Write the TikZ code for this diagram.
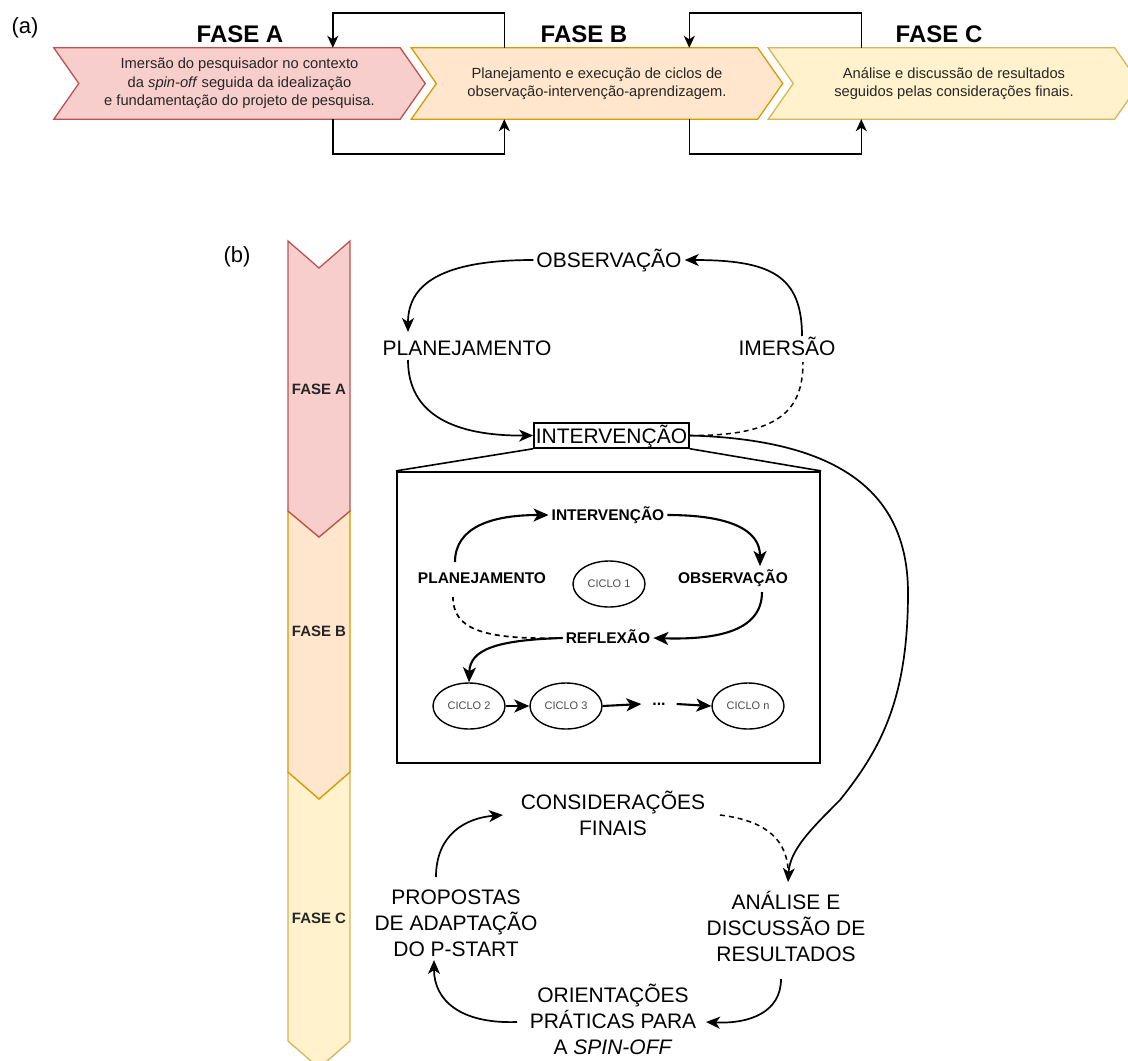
\documentclass[tikz,border=0pt]{standalone}
\usepackage{fontspec}
\setmainfont{Liberation Sans}
\usetikzlibrary{arrows.meta,calc,shapes.geometric}

\definecolor{afill}{HTML}{F8CECC}
\definecolor{aline}{HTML}{B85450}
\definecolor{bfill}{HTML}{FFE6CC}
\definecolor{bline}{HTML}{D79B00}
\definecolor{cfill}{HTML}{FFF2CC}
\definecolor{cline}{HTML}{D6B656}

\tikzset{
  body/.style={minimum width=346pt, minimum height=71pt, inner sep=0pt},
  boxtxt/.style={font=\fontsize{14.7}{18.3}\selectfont, align=center, text=black!85},
  phasetitle/.style={font=\bfseries\fontsize{24}{28}\selectfont, text height=17pt, text depth=0pt, inner sep=0pt},
  bartitle/.style={font=\bfseries\fontsize{15}{18}\selectfont, text height=11pt, text depth=0pt, inner sep=0pt, text=black!85},
  tag/.style={font=\fontsize{22}{26}\selectfont},
  big/.style={font=\fontsize{21}{26}\selectfont, align=center, inner sep=3pt},
  bigone/.style={big, text height=15pt, text depth=0pt},
  sm/.style={font=\bfseries\fontsize{15.5}{18}\selectfont, inner sep=3pt, text height=11pt, text depth=0pt},
  ciclo/.style={ellipse, draw, line width=1.4pt, minimum width=72pt, minimum height=46pt, inner sep=0pt,
                font=\fontsize{11}{13}\selectfont, text=black!70},
  loop/.style={-{Stealth[length=12pt,width=11pt,inset=3.5pt]}, line width=1.6pt},
  arr/.style={-{Stealth[length=14pt,width=12pt,inset=4pt]}, line width=1.7pt},
  arrb/.style={-{Stealth[length=15pt,width=13pt,inset=4pt]}, line width=2.1pt},
  dsh/.style={dash pattern=on 5pt off 4pt, line width=1.5pt},
  dshb/.style={dash pattern=on 5pt off 4pt, line width=1.7pt},
}

\begin{document}
\begin{tikzpicture}[x=1pt,y=-1pt]
\useasboundingbox (0,0) rectangle (1128,1061);
\fill[white] (0,0) rectangle (1128,1061);
\clip (0,0) rectangle (1128,1061);

% ---------- (a) phase sequence ----------
\node[tag] (taga) at (25,28) {(a)};

\node[body] (fa) at (227,83.5) {};
\node[body] (fb) at (584.5,83.5) {};
\node[body] (fc) at (941.5,83.5) {};

\draw[fill=afill, draw=aline, line width=1.3pt]
  (fa.north west) -- (fa.north east) -- ($(fa.east)+(25,0)$) -- (fa.south east)
  -- (fa.south west) -- ($(fa.west)+(25,0)$) -- cycle;
\draw[fill=bfill, draw=bline, line width=1.3pt]
  (fb.north west) -- (fb.north east) -- ($(fb.east)+(25,0)$) -- (fb.south east)
  -- (fb.south west) -- ($(fb.west)+(25,0)$) -- cycle;
\draw[fill=cfill, draw=cline, line width=1.3pt]
  (fc.north west) -- (fc.north east) -- ($(fc.east)+(25,0)$) -- (fc.south east)
  -- (fc.south west) -- ($(fc.west)+(25,0)$) -- cycle;

\node[boxtxt] (ta) at ($(fa)+(12.5,0)$) {Imersão do pesquisador no contexto\\da \textit{spin-off} seguida da idealização\\e fundamentação do projeto de pesquisa.};
\node[boxtxt] (tb) at ($(fb)+(12.5,0)$) {Planejamento e execução de ciclos de\\observação-intervenção-aprendizagem.};
\node[boxtxt] (tc) at ($(fc)+(12.5,0)$) {Análise e discussão de resultados\\seguidos pelas considerações finais.};

\node[phasetitle] (la) at (240,33.5) {FASE A};
\node[phasetitle] (lb) at (584,33.5) {FASE B};
\node[phasetitle] (lc) at (939,33.5) {FASE C};

% feedback loops between neighbouring phases
\draw[loop] ($(fb.north west)+(93,0)$) -- ++(0,-35) -| ($(fa.north west)+(279,0)$);
\draw[loop] ($(fa.south west)+(279,0)$) -- ++(0,35) -| ($(fb.south west)+(93,0)$);
\draw[loop] ($(fc.north west)+(93,0)$) -- ++(0,-35) -| ($(fb.north west)+(278,0)$);
\draw[loop] ($(fb.south west)+(278,0)$) -- ++(0,35) -| ($(fc.south west)+(93,0)$);

% ---------- (b) vertical phase bar ----------
\node[tag] (tagb) at (237,257) {(b)};

\draw[fill=cfill, draw=cline, line width=1.3pt]
  (288,772) -- (319,799) -- (350,772) -- (350,1041) -- (319,1068) -- (288,1041) -- cycle;
\draw[fill=bfill, draw=bline, line width=1.3pt]
  (288,511) -- (319,537) -- (350,511) -- (350,772) -- (319,799) -- (288,772) -- cycle;
\draw[fill=afill, draw=aline, line width=1.3pt]
  (288,241) -- (319,268) -- (350,241) -- (350,511) -- (319,537) -- (288,511) -- cycle;

\node[bartitle] (ba) at (319,389) {FASE A};
\node[bartitle] (bb) at (319,631) {FASE B};
\node[bartitle] (bc) at (319,918) {FASE C};

% ---------- upper cycle ----------
\node[bigone] (obs) at (609,260) {OBSERVAÇÃO};
\node[bigone] (plan) at (467,348) {PLANEJAMENTO};
\node[bigone] (imer) at (787,348) {IMERSÃO};
\node[bigone, draw, line width=1.5pt, inner sep=2pt, minimum height=25pt] (interv) at (611.5,435.5) {INTERVENÇÃO};

\draw[arr] (obs.west) .. controls (440,260) and (408,285) .. ($(plan)+(-59,-16)$);
\draw[arr] ($(imer)+(15,-12)$) .. controls (802,275) and (770,260) .. (obs.east);
\draw[arr] ($(plan)+(-59,12)$) .. controls (408,415) and (455,436) .. (interv.west);
\draw[dsh] (interv.east) .. controls (780,436) and (803,410) .. ($(imer)+(16,14)$);

% ---------- zoomed view of the intervention cycles ----------
\node[draw, line width=2.2pt, minimum width=423pt, minimum height=291pt, inner sep=0pt] (zoombox) at (608.5,617.5) {};
\draw[line width=1.6pt] (interv.south west) -- (zoombox.north west);
\draw[line width=1.6pt] (interv.south east) -- (zoombox.north east);

\node[sm] (iint) at (608,515) {INTERVENÇÃO};
\node[sm] (iplan) at (482,578) {PLANEJAMENTO};
\node[sm] (iobs) at (733,578) {OBSERVAÇÃO};
\node[sm] (irefl) at (608,638) {REFLEXÃO};
\node[ciclo] (c1) at (609,584) {CICLO 1};
\node[ciclo] (c2) at (469,706) {CICLO 2};
\node[ciclo] (c3) at (566,706) {CICLO 3};
\node[font=\bfseries\fontsize{16}{18}\selectfont, minimum width=35pt, inner sep=0pt] (dots) at (659,704) {...};
\node[ciclo] (cn) at (748,706) {CICLO n};

\draw[arrb] ($(iplan)+(-27,-16)$) .. controls (455,528) and (490,515) .. (iint.west);
\draw[arrb] (iint.east) .. controls (730,515) and (760,530) .. ($(iobs)+(27,-12)$);
\draw[arrb] ($(iobs)+(29,14)$) .. controls (762,630) and (720,640) .. (irefl.east);
\draw[arrb] (irefl.west) .. controls (495,640) and (470,650) .. (c2.north);
\draw[dshb] (irefl.west) .. controls (480,640) and (453,628) .. ($(iplan)+(-29,19)$);
\draw[arrb] (c2.east) -- (c3.west);
\draw[arrb] (c3.east) -- (dots.west);
\draw[arrb] (dots.east) -- (cn.west);

% ---------- lower cycle ----------
\node[big] (cons) at (613,813) {CONSIDERAÇÕES\\FINAIS};
\node[big] (prop) at (456,923) {PROPOSTAS\\DE ADAPTAÇÃO\\DO P-START};
\node[big] (anal) at (786,926) {ANÁLISE E\\DISCUSSÃO DE\\RESULTADOS};
\node[big] (orient) at (613,1019) {ORIENTAÇÕES\\PRÁTICAS PARA\\A \textit{SPIN-OFF}};

\draw[arr] (interv.east) .. controls (850,440) and (908,500) .. (908,593)
  .. controls (908,700) and (880,750) .. (840,800)
  .. controls (810,830) and (790,850) .. ($(anal)+(2,-44)$);
\draw[dsh] ($(cons)+(107,2)$) .. controls (760,820) and (785,835) .. ($(anal)+(2,-58)$);
\draw[arr] ($(prop)+(-20,-46)$) .. controls (436,835) and (465,818) .. ($(cons)+(-110,2)$);
\draw[arr] ($(anal)+(-5,53)$) .. controls (781,1012) and (750,1024) .. ($(orient)+(93,3)$);
\draw[arr] ($(orient)+(-96,3)$) .. controls (460,1024) and (434,1000) .. ($(prop)+(-22,37)$);
\end{tikzpicture}
\end{document}
